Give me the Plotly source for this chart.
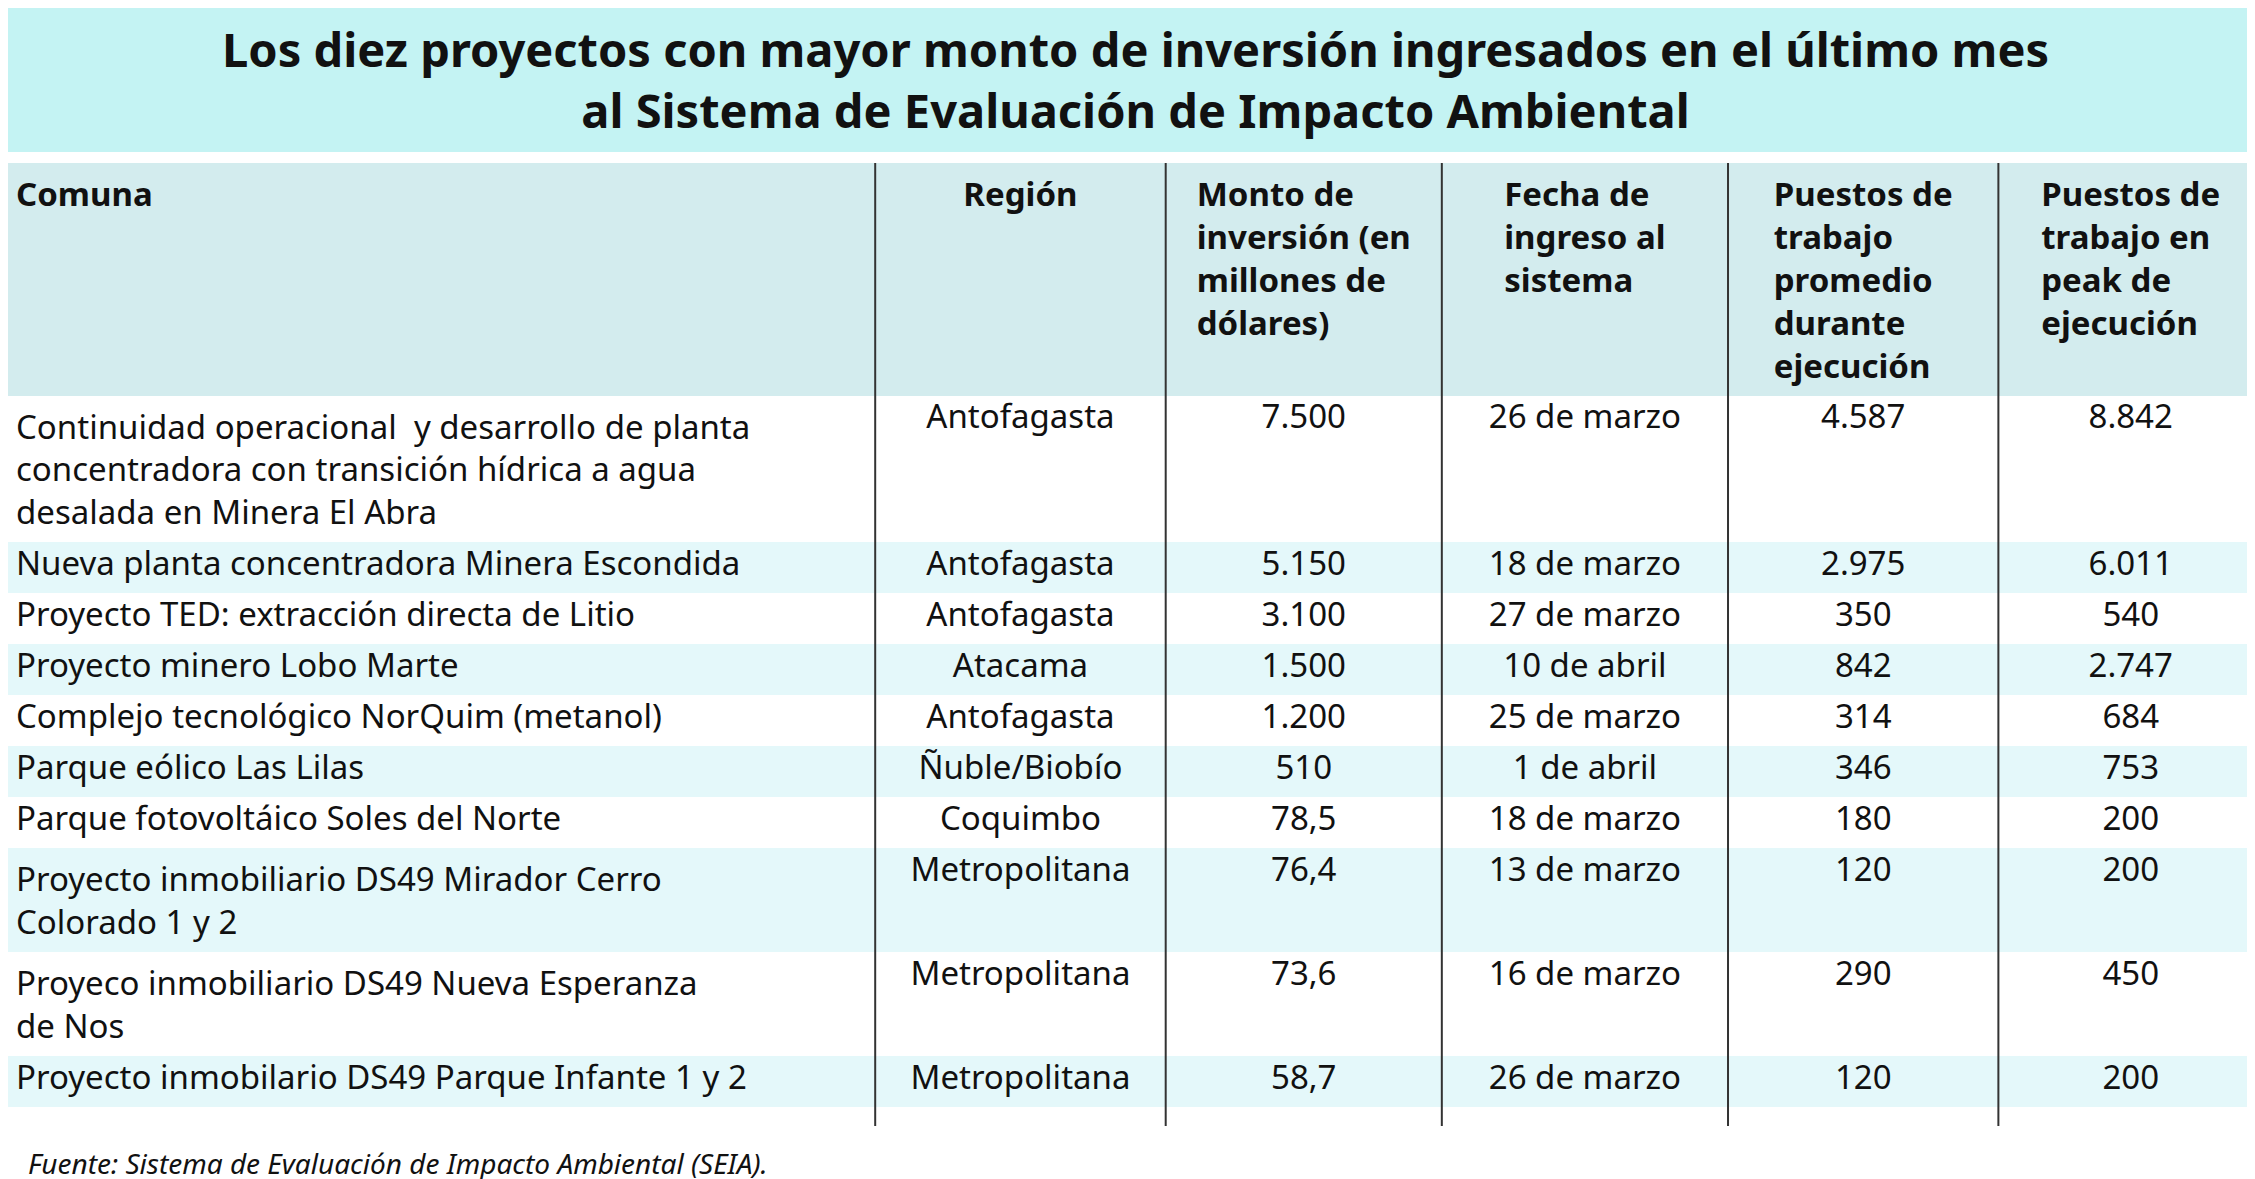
import plotly.graph_objects as go

title = "Los diez proyectos con mayor monto de inversión ingresados en el último mes<br>al Sistema de Evaluación de Impacto Ambiental"
headers = ["Comuna", "Región", "Monto de<br>inversión (en<br>millones de<br>dólares)", "Fecha de<br>ingreso al<br>sistema",
           "Puestos de<br>trabajo<br>promedio<br>durante<br>ejecución", "Puestos de<br>trabajo en<br>peak de<br>ejecución"]
comunas = ["Continuidad operacional  y desarrollo de planta<br>concentradora con transición hídrica a agua<br>desalada en Minera El Abra",
           "Nueva planta concentradora Minera Escondida",
           "Proyecto TED: extracción directa de Litio",
           "Proyecto minero Lobo Marte",
           "Complejo tecnológico NorQuim (metanol)",
           "Parque eólico Las Lilas",
           "Parque fotovoltáico Soles del Norte",
           "Proyecto inmobiliario DS49 Mirador Cerro<br>Colorado 1 y 2",
           "Proyeco inmobiliario DS49 Nueva Esperanza<br>de Nos",
           "Proyecto inmobilario DS49 Parque Infante 1 y 2"]
regiones = ["Antofagasta", "Antofagasta", "Antofagasta", "Atacama", "Antofagasta", "Ñuble/Biobío",
            "Coquimbo", "Metropolitana", "Metropolitana", "Metropolitana"]
montos = ["7.500", "5.150", "3.100", "1.500", "1.200", "510", "78,5", "76,4", "73,6", "58,7"]
fechas = ["26 de marzo", "18 de marzo", "27 de marzo", "10 de abril", "25 de marzo", "1 de abril",
          "18 de marzo", "13 de marzo", "16 de marzo", "26 de marzo"]
promedio = ["4.587", "2.975", "350", "842", "314", "346", "180", "120", "290", "120"]
peak = ["8.842", "6.011", "540", "2.747", "684", "753", "200", "200", "450", "200"]
fuente = "Fuente: Sistema de Evaluación de Impacto Ambiental (SEIA)."

W, H = 2255, 1179
col_w = [603, 202, 192, 199, 188, 184]
row_fill = ["#ffffff" if i % 2 == 0 else "#e4f8fa" for i in range(len(comunas))]
FONT = "Noto Sans"

fig = go.Figure(go.Table(
    domain=dict(x=[0, 1], y=[1 - 1118 / H, 1 - 155 / H]),
    columnwidth=col_w,
    header=dict(values=["<b>%s</b>" % h for h in headers],
                fill_color="#d3ecee", line=dict(color="#d3ecee", width=0),
                align=["left"] + ["center"] * 5, height=54,
                font=dict(family=FONT, size=33, color="#111111")),
    cells=dict(values=[comunas, regiones, montos, fechas, promedio, peak],
               fill_color=[row_fill] * 6, line=dict(color="rgba(0,0,0,0)", width=0),
               align=["left"] + ["center"] * 5, height=51,
               font=dict(family=FONT, size=33, color="#111111")),
))

shapes = [dict(type="rect", xref="paper", yref="paper", x0=0, x1=1, y0=1 - 144 / H, y1=1,
               fillcolor="#c4f3f3", line=dict(width=0), layer="below")]
x = 0
for w in col_w[:-1]:
    x += w
    xf = x / sum(col_w)
    shapes.append(dict(type="line", xref="paper", yref="paper", x0=xf, x1=xf,
                       y0=1 - 1118 / H, y1=1 - 155 / H, line=dict(color="#333333", width=2)))

fig.update_layout(
    width=W, height=H, margin=dict(l=0, r=0, t=0, b=0), paper_bgcolor="white",
    shapes=shapes,
    annotations=[
        dict(text="<b>%s</b>" % title, xref="paper", yref="paper", x=0.5, y=1 - 72 / H,
             showarrow=False, xanchor="center", yanchor="middle",
             font=dict(family=FONT, size=47, color="#111111")),
        dict(text="<i>%s</i>" % fuente, xref="paper", yref="paper", x=0.008, y=1 - 1155 / H,
             showarrow=False, xanchor="left", yanchor="middle",
             font=dict(family=FONT, size=28, color="#111111")),
    ])
fig.write_html("out.html")
